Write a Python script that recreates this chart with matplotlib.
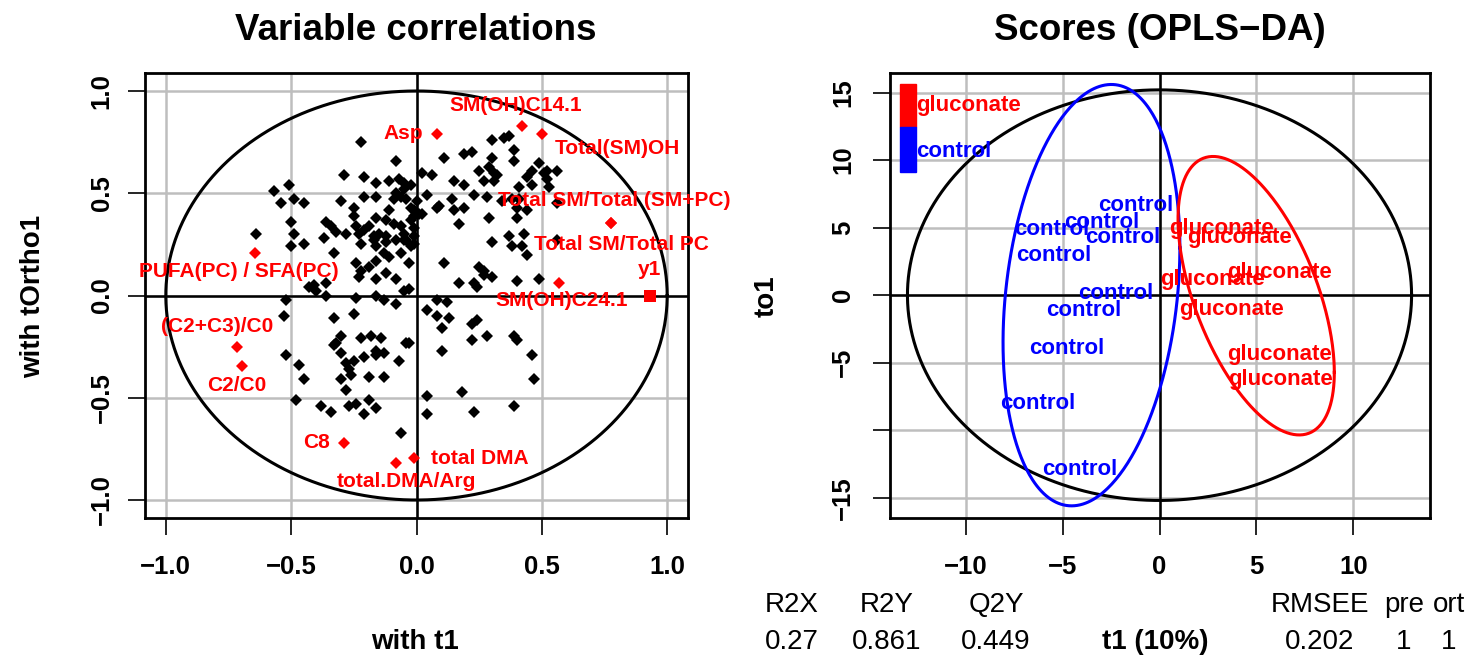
import numpy as np
import matplotlib.pyplot as plt
from matplotlib.patches import Rectangle

plt.rcParams['font.family'] = ['Liberation Sans', 'DejaVu Sans']

# ---- variable correlations (black diamonds) ----
cor_t1 = [-0.22, 0.30, 0.35, 0.37, 0.39, -0.08, 0.11, 0.19, 0.22, 0.30, 0.39, 0.29, 0.49, 0.56, -0.29, 0.25,
          -0.21, -0.16, -0.11, -0.05, -0.02, 0.02, 0.06, 0.15, 0.19, 0.27, 0.32, 0.31, 0.44, 0.51, 0.46, 0.52,
          0.53, 0.41, 0.38, -0.51, -0.57, -0.54, -0.49, -0.45, -0.30, -0.25, -0.21, -0.16, -0.08, -0.06, 0.04,
          0.09, 0.14, 0.19, 0.23, 0.28, 0.34, 0.40, 0.44, 0.56, -0.50, -0.36, -0.34, -0.28, -0.24, -0.21, -0.16,
          -0.12, -0.09, -0.06, -0.01, 0.02, 0.08, 0.17, 0.29, 0.40, -0.64, -0.49, -0.45, -0.37, -0.33, -0.23,
          -0.22, -0.17, -0.12, -0.08, -0.05, -0.01, -0.01, 0.30, 0.37, 0.43, 0.38, 0.44, 0.56, -0.50, -0.24,
          -0.19, -0.16, -0.13, -0.11, -0.06, -0.03, 0.11, 0.25, 0.27, -0.43, -0.40, -0.36, -0.23, -0.22, -0.16,
          -0.12, -0.08, -0.03, 0.17, 0.24, 0.40, 0.49, -0.13, -0.24, -0.52, -0.08, -0.53, -0.33, -0.25, 0.04,
          0.08, 0.08, 0.12, 0.22, 0.24, 0.13, -0.52, -0.47, -0.33, -0.30, -0.22, -0.18, -0.14, -0.03, 0.10,
          0.10, 0.22, 0.28, 0.39, 0.46, 0.40, -0.28, -0.21, -0.16, -0.45, -0.30, -0.26, -0.28, -0.19, -0.13,
          -0.07, -0.48, -0.38, -0.34, -0.27, -0.24, -0.21, -0.19, -0.16, 0.04, 0.04, 0.18, 0.23, 0.39, 0.47,
          -0.06, -0.27, -0.13, -0.30, -0.25, -0.32, -0.16, -0.16, -0.05, -0.41, -0.36, 0.23, 0.27, 0.30, -0.04,
          0.00, -0.01, -0.02, -0.02, 0.01, -0.01, -0.02, -0.04, 0.15, 0.31, 0.52, 0.41, 0.46, 0.42, -0.25,
          -0.32, -0.19, -0.17, -0.15, -0.16, -0.12, -0.11, -0.09, -0.05, -0.04, -0.07, -0.05]
cor_ortho = [0.75, 0.76, 0.77, 0.78, 0.71, 0.66, 0.67, 0.69, 0.70, 0.67, 0.66, 0.63, 0.65, 0.61, 0.59, 0.61,
             0.58, 0.55, 0.56, 0.55, 0.54, 0.60, 0.59, 0.56, 0.54, 0.56, 0.59, 0.60, 0.58, 0.60, 0.54, 0.57,
             0.53, 0.53, 0.47, 0.54, 0.51, 0.45, 0.47, 0.45, 0.46, 0.43, 0.48, 0.48, 0.50, 0.48, 0.49,
             0.44, 0.47, 0.43, 0.49, 0.48, 0.46, 0.43, 0.42, 0.45, 0.36, 0.36, 0.34, 0.30, 0.34, 0.32, 0.38,
             0.37, 0.35, 0.34, 0.39, 0.40, 0.43, 0.35, 0.38, 0.38, 0.30, 0.30, 0.25, 0.28, 0.21, 0.30,
             0.25, 0.27, 0.29, 0.27, 0.30, 0.29, 0.25, 0.26, 0.29, 0.30, 0.24, 0.20, 0.27, 0.24, 0.16,
             0.14, 0.17, 0.21, 0.19, 0.21, 0.16, 0.16, 0.14, 0.12, 0.04, 0.02, 0.00, 0.09, 0.12, 0.08,
             0.11, 0.08, 0.03, 0.06, 0.04, 0.07, 0.08, -0.02, -0.01, -0.02, -0.04, -0.10, -0.11, -0.09, -0.07,
             -0.10, -0.02, -0.03, -0.14, -0.12, -0.11, -0.29, -0.34, -0.24, -0.28, -0.21, -0.20, -0.21, -0.23, -0.16,
             -0.27, -0.22, -0.20, -0.20, -0.29, -0.22, -0.33, -0.30, -0.29, -0.41, -0.41, -0.39, -0.46, -0.40, -0.40,
             -0.32, -0.51, -0.54, -0.57, -0.54, -0.53, -0.58, -0.51, -0.55, -0.49, -0.58, -0.47, -0.57, -0.54, -0.41,
             -0.67, -0.36, -0.28, -0.20, -0.32, -0.23, -0.27, 0.00, 0.02, 0.05, 0.06, 0.06, 0.10, 0.09, -0.23,
             0.46, 0.42, 0.37, 0.43, 0.40, 0.33, 0.24, 0.27, 0.42, 0.56, 0.61, 0.47, 0.61, 0.24, 0.39,
             0.31, 0.34, 0.29, 0.30, 0.24, 0.26, 0.42, 0.47, 0.52, 0.47, 0.57, 0.27]

# ---- highlighted variables (red) ----
hl_names = ['Asp', 'SM(OH)C14.1', 'Total(SM)OH', 'Total SM/Total (SM+PC)', 'Total SM/Total PC',
            'SM(OH)C24.1', 'PUFA(PC) / SFA(PC)', '(C2+C3)/C0', 'C2/C0', 'C8', 'total DMA', 'total.DMA/Arg']
hl_t1 = [0.08, 0.42, 0.50, 0.775, 0.775, 0.568, -0.646, -0.715, -0.696, -0.29, -0.008, -0.083]
hl_ortho = [0.79, 0.83, 0.79, 0.355, 0.355, 0.063, 0.209, -0.253, -0.345, -0.72, -0.796, -0.82]
# label offsets in pixels (right, down)
hl_off = [(-33, 0), (-6, -20), (76, 15), (3, -22), (11, 22), (3, 18), (-16, 19), (-20, -21),
          (-5, 19), (-27, 0), (65, 0), (11, 18)]
y1_t1, y1_ortho = 0.93, 0.0

# ---- scores ----
ctrl_t1 = [-1.25, -3.00, -5.58, -1.89, -5.45, -2.27, -3.92, -4.81, -6.26, -4.11]
ctrl_to1 = [6.61, 5.39, 4.89, 4.27, 2.91, 0.15, -1.16, -3.95, -8.02, -12.89]
gluc_t1 = [3.22, 4.15, 6.21, 2.71, 3.73, 6.18, 6.25]
gluc_to1 = [4.94, 4.27, 1.68, 1.19, -1.04, -4.42, -6.22]

# ellipses: centre x, centre y, half width, half height, correlation
ell_all = (0.0, 0.0, 13.0, 15.2, 0.0)
ell_ctrl = (-3.51, 0.0, 4.56, 15.6, 0.225)
ell_gluc = (4.985, -0.04, 4.03, 10.31, -0.551)

stat_names = ['R2X', 'R2Y', 'Q2Y', 'RMSEE', 'pre', 'ort']
stat_values = ['0.27', '0.861', '0.449', '0.202', '1', '1']
stat_xpix = [792, 887, 996, 1320, 1404, 1449]

W, H = 1480, 658
fig = plt.figure(figsize=(W / 100, H / 100), dpi=100)
ax1 = fig.add_axes([145 / W, 1 - 518 / H, 543 / W, 445 / H])
ax2 = fig.add_axes([890 / W, 1 - 518 / H, 540 / W, 445 / H])

GRID = '#BEBEBE'


def ellipse(ax, e, color):
    cx, cy, a, b, r = e
    t = np.linspace(0, 2 * np.pi, 400)
    x = cx + a * np.cos(t)
    y = cy + b * (r * np.cos(t) + np.sqrt(1 - r * r) * np.sin(t))
    ax.plot(x, y, color=color, lw=2.2, zorder=3)


def style(ax, xt, yt, xl, yl, ypad):
    ax.set_xticks(xt)
    ax.set_yticks(yt)
    ax.set_xticklabels(xl, fontsize=18.5, fontweight='bold')
    ax.set_yticklabels(yl, fontsize=18.5, fontweight='bold', rotation=90, va='center')
    ax.tick_params(axis='x', direction='out', length=12, width=1.2, pad=15)
    ax.tick_params(axis='y', direction='out', length=12, width=1.2, pad=ypad)
    ax.grid(True, color=GRID, lw=1.8)
    ax.set_axisbelow(True)
    ax.axhline(0, color='black', lw=1.8, zorder=2)
    ax.axvline(0, color='black', lw=1.8, zorder=2)
    for s in ax.spines.values():
        s.set_linewidth(2.0)


def fmt(v, d):
    s = f'{abs(v):.{d}f}'
    return ('\u2212' + s) if v < 0 else s


# ---- left panel ----
ticks1 = [-1.0, -0.5, 0.0, 0.5, 1.0]
style(ax1, ticks1, ticks1, [fmt(v, 1) for v in ticks1], [fmt(v, 1) for v in ticks1], 10.5)
ax1.set_xlim(-1.083, 1.083)
ax1.set_ylim(-1.088, 1.088)
ellipse(ax1, (0, 0, 1, 1, 0), 'black')
ax1.plot(cor_t1, cor_ortho, 'D', color='black', ms=6.3, mew=0, zorder=4)
ax1.plot(hl_t1, hl_ortho, 'D', color='red', ms=6.3, mew=0, zorder=5)
ax1.plot([y1_t1], [y1_ortho], 's', color='red', ms=8.8, mew=0, zorder=5)
ax1.annotate('y1', (y1_t1, y1_ortho), xytext=(0, 26 * 0.72), textcoords='offset points',
             ha='center', va='center', color='red', fontsize=15, fontweight='bold', zorder=6)
for name, x, y, (dx, dy) in zip(hl_names, hl_t1, hl_ortho, hl_off):
    ax1.annotate(name, (x, y), xytext=(dx * 0.72, -dy * 0.72), textcoords='offset points',
                 ha='center', va='center', color='red', fontsize=15, fontweight='bold', zorder=6)

# ---- right panel ----
yt2 = [-15, -10, -5, 0, 5, 10, 15]
yl2 = [fmt(v, 0) if v != -10 else '' for v in yt2]
xt2 = [-10, -5, 0, 5, 10]
style(ax2, xt2, yt2, [fmt(v, 0) for v in xt2], yl2, 13)
ax2.set_xlim(-13.9, 13.95)
ax2.set_ylim(-16.5, 16.45)
ellipse(ax2, ell_all, 'black')
ellipse(ax2, ell_ctrl, 'blue')
ellipse(ax2, ell_gluc, 'red')
for x, y in zip(ctrl_t1, ctrl_to1):
    ax2.text(x, y, 'control', color='blue', ha='center', va='center',
             fontsize=16, fontweight='bold', zorder=6)
for x, y in zip(gluc_t1, gluc_to1):
    ax2.text(x, y, 'gluconate', color='red', ha='center', va='center',
             fontsize=16, fontweight='bold', zorder=6)
# legend
ax2.add_patch(Rectangle((0.018, 0.878), 0.030, 0.097, transform=ax2.transAxes,
                        color='red', zorder=7))
ax2.add_patch(Rectangle((0.018, 0.778), 0.030, 0.100, transform=ax2.transAxes,
                        color='blue', zorder=7))
ax2.text(0.048, 0.926, 'gluconate', transform=ax2.transAxes, color='red', ha='left',
         va='center', fontsize=16, fontweight='bold', zorder=7)
ax2.text(0.048, 0.823, 'control', transform=ax2.transAxes, color='blue', ha='left',
         va='center', fontsize=16, fontweight='bold', zorder=7)

# ---- titles and axis labels ----
fig.text(416 / W, 1 - 30 / H, 'Variable correlations', ha='center', va='center',
         fontsize=26.5, fontweight='bold')
fig.text(1160 / W, 1 - 30 / H, 'Scores (OPLS\u2212DA)', ha='center', va='center',
         fontsize=26.5, fontweight='bold')
fig.text(415 / W, 1 - 642 / H, 'with t1', ha='center', va='center', fontsize=20, fontweight='bold')
fig.text(33 / W, 1 - 296 / H, 'with tOrtho1', ha='center', va='center', rotation=90,
         fontsize=20, fontweight='bold')
fig.text(767 / W, 1 - 296 / H, 'to1', ha='center', va='center', rotation=90,
         fontsize=20, fontweight='bold')
fig.text(1155 / W, 1 - 642 / H, 't1 (10%)', ha='center', va='center', fontsize=20, fontweight='bold')

for name, val, xp in zip(stat_names, stat_values, stat_xpix):
    fig.text(xp / W, 1 - 605 / H, name, ha='center', va='center', fontsize=20)
    fig.text(xp / W, 1 - 642 / H, val, ha='center', va='center', fontsize=20)

fig.savefig('out.png', dpi=100)
